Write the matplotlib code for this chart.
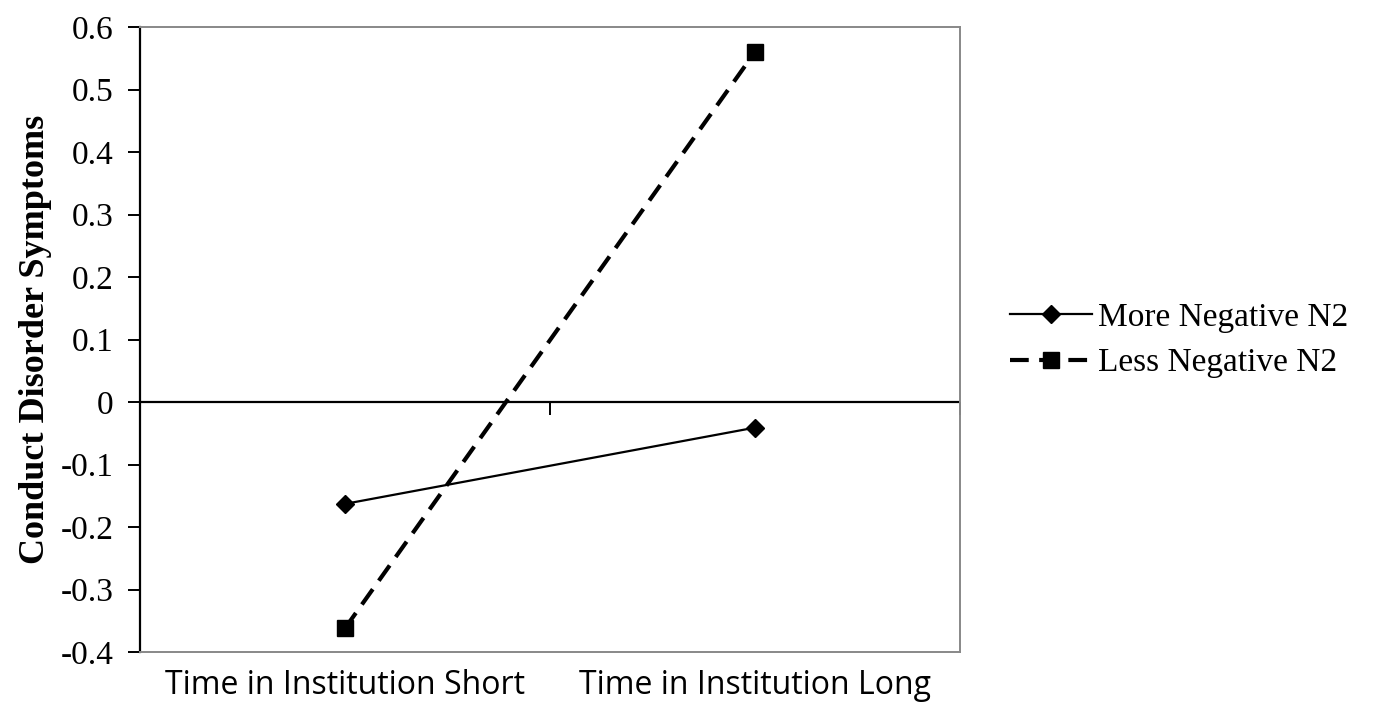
import numpy as np
import matplotlib
matplotlib.use("Agg")
from matplotlib import pyplot as plt

# categories and values
groups = ["Time in Institution Short", "Time in Institution Long"]
more_negative = [-0.163, -0.041]
less_negative = [-0.362, 0.560]
yticks = [0.6, 0.5, 0.4, 0.3, 0.2, 0.1, 0.0, -0.1, -0.2, -0.3, -0.4]

plt.rcParams["axes.unicode_minus"] = False

fig = plt.figure(figsize=(13.73, 7.02), dpi=100)
ax = fig.add_axes([140/1373, 50/702, 820/1373, 625/702])

xpos = np.arange(len(groups))
ax.plot(xpos, more_negative, color="black", lw=1.6, marker="D", markersize=9.5,
        label="More Negative N2")
ax.plot(xpos, less_negative, color="black", lw=3, ls=(0, (4.5, 2.5)), marker="s",
        markersize=12, label="Less Negative N2")

ax.set_xlim(-0.5, 1.5)
ax.set_ylim(-0.4, 0.6)

# zero line with category ticks
ax.axhline(0, color="black", lw=1.6, zorder=1)
sec = ax.secondary_xaxis(0.4)
sec.set_xticks([-0.5, 0.5, 1.5])
sec.set_xticklabels([])
sec.tick_params(direction="out", length=9, width=1.4, color="black")
sec.spines["bottom"].set_visible(False)

ax.set_xticks(xpos)
ax.set_xticklabels(groups, fontsize=23, family="Open Sans")
ax.tick_params(axis="x", length=0, pad=12)

ax.set_yticks(yticks)
ax.set_yticklabels(["%g" % v if v != 0 else "0" for v in yticks], fontsize=24,
                   family="Liberation Serif")
ax.tick_params(axis="y", direction="out", length=9, width=1.4, pad=10)
ax.set_ylabel("Conduct Disorder Symptoms", fontsize=26, fontweight="bold",
              family="Liberation Serif", labelpad=6)

for s in ["top", "right", "bottom"]:
    ax.spines[s].set_color("#888888")
    ax.spines[s].set_linewidth(1.4)
ax.spines["left"].set_color("black")
ax.spines["left"].set_linewidth(1.6)

fig.legend(loc="center left", bbox_to_anchor=(980/1373, 0.515), frameon=False,
           prop={"family": "Liberation Serif", "size": 24}, handlelength=2.45,
           handletextpad=0.2, labelspacing=0.45)

fig.savefig("out.png", dpi=100)
